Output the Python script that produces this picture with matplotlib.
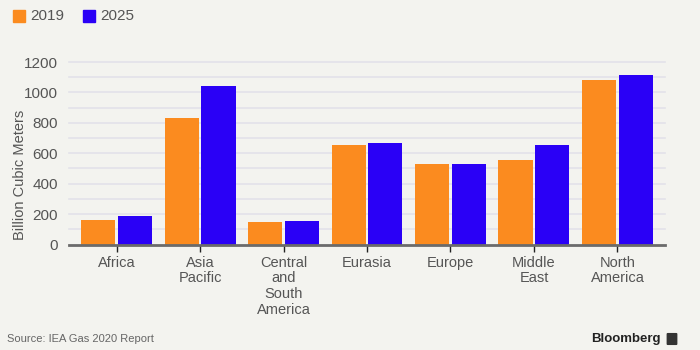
import matplotlib
matplotlib.use("Agg")
import matplotlib.pyplot as plt
import numpy as np
from matplotlib.patches import Rectangle, FancyBboxPatch

categories = ["Africa", "Asia\nPacific", "Central\nand\nSouth\nAmerica", "Eurasia", "Europe", "Middle\nEast", "North\nAmerica"]
series_names = ["2019", "2025"]
values_2019 = [158, 833, 145, 653, 530, 556, 1081]
values_2025 = [187, 1044, 152, 668, 530, 653, 1114]
yticks = [0, 200, 400, 600, 800, 1000, 1200]

plt.rcParams['font.family'] = ['Liberation Sans', 'DejaVu Sans']
bg = "#f3f3ef"
c19 = "#fb8b1f"
c25 = "#2a00f6"
txt = "#555555"

fig = plt.figure(figsize=(7, 3.5), dpi=100, facecolor=bg)
ax = fig.add_axes([69/700, 1-244.5/350, (665-69)/700, (244.5-62)/350])
ax.set_facecolor(bg)

x = np.arange(len(categories))
w = 0.41
off = 0.22
ax.bar(x - off, values_2019, width=w, color=c19, zorder=3)
ax.bar(x + off, values_2025, width=w, color=c25, zorder=3)

ax.set_xlim(-0.57, len(categories) - 1 + 0.57)
ax.set_ylim(0, 1200)
ax.set_yticks(yticks)
ax.set_yticklabels([str(v) for v in yticks], color=txt, fontsize=11)
for v in range(100, 1201, 100):
    ax.axhline(v, color="#e3e2e9", lw=1.2, zorder=1, clip_on=False)

for s in ["top", "right", "left"]:
    ax.spines[s].set_visible(False)
ax.spines["bottom"].set_color("#6b6b6b")
ax.spines["bottom"].set_linewidth(2)
ax.spines["bottom"].set_zorder(4)
ax.tick_params(axis="y", length=0, pad=8)
ax.tick_params(axis="x", length=5, width=1, color="#222222", pad=3)
ax.set_xticks(x)
ax.set_xticklabels(categories, color=txt, fontsize=10.5, linespacing=1.15, va="top")

fig.text(20/700, 1-175/350, "Billion Cubic Meters", color=txt, fontsize=10.5,
         rotation=90, ha="center", va="center")

# legend
fig.patches.append(Rectangle((13/700, 1-22/350), 12/700, 12/350, transform=fig.transFigure, color=c19))
fig.text(30/700, 1-16/350, series_names[0], color=txt, fontsize=11, va="center")
fig.patches.append(Rectangle((83/700, 1-22/350), 12/700, 12/350, transform=fig.transFigure, color=c25))
fig.text(100/700, 1-16/350, series_names[1], color=txt, fontsize=11, va="center")

fig.text(7/700, 1-339/350, "Source: IEA Gas 2020 Report", color="#666666", fontsize=8, va="center")
fig.text(661/700, 1-339/350, "Bloomberg", color="#222222", fontsize=9.5, fontweight="bold", va="center", ha="right")
fig.patches.append(FancyBboxPatch((668/700, 1-344/350), 8/700, 10/350, boxstyle="round,pad=0.001",
                                  transform=fig.transFigure, color="#333333"))

fig.savefig("out.png", dpi=100, facecolor=bg)
